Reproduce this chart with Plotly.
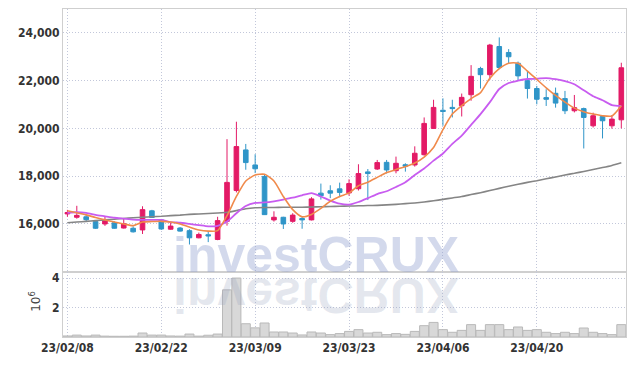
import plotly.graph_objects as go

dates = ["23/02/08", "23/02/09", "23/02/10", "23/02/13", "23/02/14", "23/02/15", "23/02/16", "23/02/17", "23/02/20", "23/02/21",
         "23/02/22", "23/02/23", "23/02/24", "23/02/27", "23/02/28", "23/03/02", "23/03/03", "23/03/06", "23/03/07", "23/03/08",
         "23/03/09", "23/03/10", "23/03/13", "23/03/14", "23/03/15", "23/03/16", "23/03/17", "23/03/20", "23/03/21", "23/03/22",
         "23/03/23", "23/03/24", "23/03/27", "23/03/28", "23/03/29", "23/03/30", "23/03/31", "23/04/03", "23/04/04", "23/04/05",
         "23/04/06", "23/04/07", "23/04/10", "23/04/11", "23/04/12", "23/04/13", "23/04/14", "23/04/17", "23/04/18", "23/04/19",
         "23/04/20", "23/04/21", "23/04/24", "23/04/25", "23/04/26", "23/04/27", "23/04/28", "23/05/02", "23/05/03", "23/05/04"]

open_ = [16420, 16280, 16300, 16100, 16000, 16050, 15830, 15820, 15750, 16550,
         16170, 15780, 15830, 15720, 15420, 15550, 15350, 16110, 17400, 19100,
         18470, 17990, 16170, 16280, 16110, 16230, 16170, 17290, 17390, 17470,
         17300, 17475, 18180, 18300, 18580, 18230, 18480, 18470, 18900, 20000,
         20760, 20880, 20950, 21410, 22510, 22250, 23430, 23180, 22730, 22000,
         21670, 21290, 21470, 21250, 20740, 20830, 20110, 20500, 20110, 20360]
high = [16590, 16760, 16390, 16140, 16290, 16110, 16250, 15900, 16740, 16590,
        16210, 16050, 15870, 15780, 15640, 15700, 16300, 19550, 20280, 19350,
        18920, 18080, 16530, 16300, 16450, 16310, 17120, 17690, 17620, 17730,
        17870, 18500, 18300, 18680, 18680, 18820, 18540, 19250, 20460, 21200,
        21260, 21200, 21460, 22650, 22580, 23540, 23810, 23320, 22800, 22410,
        21780, 21640, 21710, 21570, 21400, 20870, 20660, 20530, 20560, 22750]
low = [16300, 16220, 16100, 15790, 15920, 15800, 15810, 15640, 15580, 16260,
       15750, 15760, 15680, 15140, 15400, 15240, 15320, 15930, 17320, 18270,
       18130, 16380, 16100, 15790, 16050, 15800, 16150, 17020, 17080, 17120,
       17180, 17400, 17000, 18260, 18110, 18120, 18190, 18400, 18860, 19980,
       20110, 20460, 20500, 21160, 21670, 22040, 22480, 22730, 22000, 21250,
       21010, 20940, 20870, 20600, 20670, 19160, 20040, 19580, 19990, 20000]
close = [16480, 16360, 16180, 15820, 16150, 15820, 16010, 15670, 16600, 16270,
         15790, 15910, 15700, 15420, 15560, 15500, 16140, 17740, 19240, 18570,
         18310, 16390, 16280, 16000, 16370, 16170, 17050, 17180, 17290, 17320,
         17690, 18110, 18110, 18570, 18260, 18540, 18420, 18960, 20210, 20880,
         20710, 20830, 21300, 22180, 22250, 23490, 22550, 23000, 22200, 21670,
         21220, 21220, 21060, 20740, 20870, 20460, 20530, 20320, 20390, 22540]

ma_short = [16550, 16470, 16380, 16270, 16170, 16080, 16000, 15930, 16080, 16100,
            16110, 16080, 16000, 15870, 15750, 15700, 15720, 16350, 17150, 17800,
            18050, 18080, 17800, 17150, 16600, 16300, 16400, 16650, 16950, 17150,
            17300, 17600, 17750, 17950, 18150, 18280, 18400, 18550, 18800, 19200,
            19950, 20600, 20950, 21250, 21500, 22100, 22500, 22730, 22730, 22400,
            22050, 21700, 21380, 21100, 20850, 20700, 20600, 20530, 20520, 20950]
ma_mid = [16470, 16490, 16460, 16380, 16320, 16260, 16220, 16180, 16170, 16170,
          16170, 16080, 16050, 16000, 15950, 15900, 15920, 16100, 16450, 16750,
          16880, 16900, 16950, 17020, 17100, 17200, 17290, 17150, 16980, 16850,
          16810, 16920, 17080, 17250, 17370, 17550, 17750, 18050, 18320, 18650,
          18950, 19350, 19700, 20150, 20600, 21100, 21650, 21900, 22000, 22070,
          22080, 22110, 22060, 21980, 21850, 21600, 21350, 21180, 20980, 20940]
ma_long = [16050, 16080, 16110, 16140, 16170, 16200, 16230, 16260, 16280, 16300,
           16320, 16350, 16370, 16400, 16420, 16440, 16460, 16490, 16560, 16640,
           16680, 16690, 16690, 16700, 16700, 16700, 16710, 16720, 16730, 16740,
           16750, 16760, 16770, 16780, 16800, 16820, 16850, 16880, 16920, 16970,
           17030, 17090, 17150, 17230, 17310, 17400, 17490, 17580, 17660, 17740,
           17810, 17890, 17970, 18050, 18120, 18200, 18280, 18360, 18450, 18560]

volume_m = [0.07, 0.13, 0.07, 0.13, 0.06, 0.05, 0.05, 0.06, 0.27, 0.13,
            0.13, 0.07, 0.06, 0.20, 0.06, 0.12, 0.20, 3.20, 4.00, 0.90,
            0.62, 0.95, 0.34, 0.34, 0.27, 0.14, 0.34, 0.27, 0.16, 0.23,
            0.38, 0.50, 0.27, 0.32, 0.16, 0.23, 0.18, 0.38, 0.77, 0.99,
            0.50, 0.32, 0.45, 0.84, 0.45, 0.84, 0.84, 0.50, 0.68, 0.45,
            0.50, 0.32, 0.23, 0.32, 0.23, 0.61, 0.32, 0.23, 0.16, 0.84]

x_ticks = ["23/02/08", "23/02/22", "23/03/09", "23/03/23", "23/04/06", "23/04/20"]
price_ticks = [16000, 18000, 20000, 22000, 24000]
volume_ticks = [2, 4]

UP = "#e31a66"
DOWN = "#2f95c8"
GRID = "#c2c7da"
FRAME = "#cfcfcf"
TICKFONT = dict(family="DejaVu Sans Condensed, Liberation Sans Narrow, Arial Narrow, sans-serif",
                size=12, color="#333333", weight="bold")

fig = go.Figure()

fig.add_trace(go.Bar(
    x=dates, y=volume_m, xaxis="x2", yaxis="y2",
    marker=dict(color="#d8d8d8", line=dict(color="#b9b9b9", width=1)),
    hoverinfo="skip", showlegend=False,
))

fig.add_trace(go.Candlestick(
    x=dates, open=open_, high=high, low=low, close=close,
    increasing=dict(line=dict(color=UP, width=1), fillcolor=UP),
    decreasing=dict(line=dict(color=DOWN, width=1), fillcolor=DOWN),
    showlegend=False,
))

for vals, col, w in [(ma_long, "#858585", 1.6), (ma_mid, "#c85cf0", 1.8), (ma_short, "#f08a4b", 1.6)]:
    fig.add_trace(go.Scatter(x=dates, y=vals, mode="lines",
                             line=dict(color=col, width=w, shape="spline", smoothing=0.6),
                             hoverinfo="skip", showlegend=False))

axis_common = dict(showline=True, mirror=True, linecolor=FRAME, linewidth=1,
                   showgrid=True, gridcolor=GRID, griddash="1px,2px", gridwidth=1,
                   zeroline=False, ticks="")

fig.update_layout(
    width=635, height=366,
    margin=dict(l=63, r=9, t=9, b=29),
    paper_bgcolor="white", plot_bgcolor="white",
    bargap=0.04,
    xaxis=dict(type="category", range=[-0.47, 59.5], domain=[0, 1], anchor="y",
               tickvals=x_ticks, showticklabels=False,
               rangeslider=dict(visible=False), **axis_common),
    yaxis=dict(domain=[0.199, 1], range=[14000, 25000], tickvals=price_ticks,
               tickformat=",", tickfont=TICKFONT, anchor="x", **axis_common),
    xaxis2=dict(type="category", matches="x", range=[-0.47, 59.5], domain=[0, 1], anchor="y2",
                tickvals=x_ticks, tickfont=TICKFONT, **axis_common),
    yaxis2=dict(domain=[0, 0.199], range=[0, 4.43], tickvals=volume_ticks,
                tickfont=TICKFONT, anchor="x2", **axis_common),
    annotations=[
        dict(text="investCRUX", xref="paper", yref="paper", x=0.4485, y=0.25,
             xanchor="center", yanchor="middle", showarrow=False,
             font=dict(family="Liberation Sans, Arial, sans-serif", size=50,
                       color="rgba(150,165,210,0.42)", weight="bold")),
        dict(text="investCRUX", xref="paper", yref="paper", x=0.4485, y=0.128,
             xanchor="center", yanchor="middle", showarrow=False,
             font=dict(family="Liberation Sans, Arial, sans-serif", size=50,
                       color="rgba(150,160,190,0.25)", weight="bold")),
        dict(text="10<sup>6</sup>", xref="paper", yref="paper", x=-0.05, y=0.11,
             xanchor="center", yanchor="middle", showarrow=False, textangle=-90,
             font=dict(family="DejaVu Sans, sans-serif", size=12, color="#444444")),
    ],
)

post = """
document.body.style.margin = '0';
document.body.style.padding = '0';
function flipRefl(){
  var el = document.querySelector('g.annotation[data-index="1"] text.annotation-text');
  if(el){
    el.style.transformBox = 'fill-box';
    el.style.transformOrigin = 'center';
    el.style.transform = 'scaleY(-1)';
  }
}
var gd = document.getElementById('{plot_id}');
flipRefl();
if(gd && gd.on){ gd.on('plotly_afterplot', flipRefl); }
"""

fig.write_html("out.html", post_script=post, config={"displayModeBar": False})
